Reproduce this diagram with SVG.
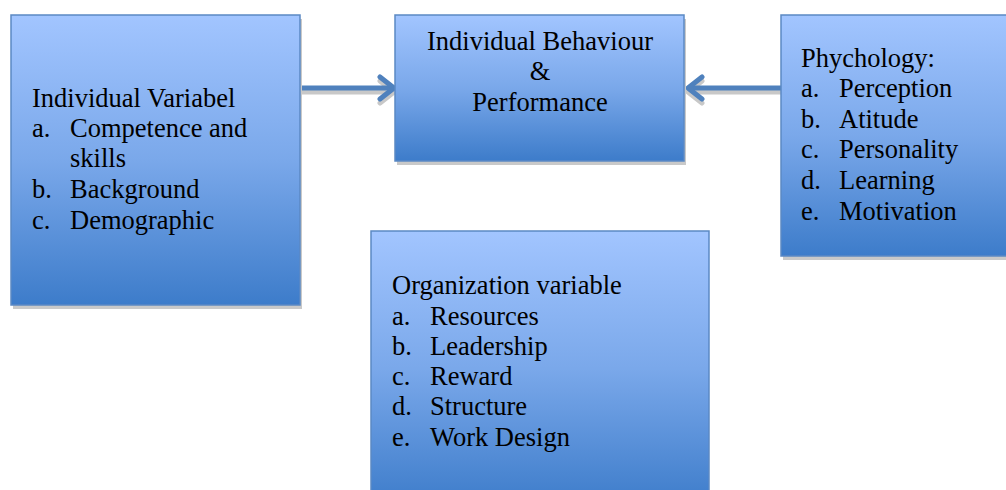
<svg xmlns="http://www.w3.org/2000/svg" width="1006" height="490" viewBox="0 0 1006 490">
<defs>
<linearGradient id="g" x1="0" y1="0" x2="0" y2="1">
<stop offset="0" stop-color="#a2c5ff"/>
<stop offset="0.5" stop-color="#7aa8ea"/>
<stop offset="1" stop-color="#3d7cca"/>
</linearGradient>
<marker id="ah" viewBox="0 0 20 28" refX="17" refY="14" markerWidth="20" markerHeight="28" markerUnits="userSpaceOnUse" orient="auto">
<path d="M3 3 L17 14 L3 25" fill="none" stroke="#4f81bd" stroke-width="5" stroke-linecap="round" stroke-linejoin="round"/>
</marker>
<marker id="ahs" viewBox="0 0 20 28" refX="17" refY="14" markerWidth="20" markerHeight="28" markerUnits="userSpaceOnUse" orient="auto">
<path d="M3 3 L17 14 L3 25" fill="none" stroke="#c8c8c8" stroke-width="5" stroke-linecap="round" stroke-linejoin="round"/>
</marker>
</defs>
<style>
.box{fill:url(#g);stroke:#5b89c4;stroke-width:1.5}
.sh{fill:#c9c9c9}
text{font-family:"Liberation Serif","Times New Roman",serif;font-size:26.5px;fill:#000}
.c{text-anchor:middle}
.ln{stroke:#4f81bd;stroke-width:5;fill:none}
.lns{stroke:#c8c8c8;stroke-width:5;fill:none}
</style>
<g id="connectors">
<line class="lns" x1="301" y1="92" x2="394" y2="92" marker-end="url(#ahs)"/>
<line class="lns" x1="781" y1="92" x2="688" y2="92" marker-end="url(#ahs)"/>
<line class="ln" x1="301" y1="88" x2="394" y2="88" marker-end="url(#ah)"/>
<line class="ln" x1="781" y1="88" x2="688" y2="88" marker-end="url(#ah)"/>
</g>
<g id="individual-variabel">
<rect class="sh" x="13" y="19" width="289" height="290"/>
<rect class="box" x="11" y="15" width="289" height="290"/>
<text x="32" y="107">Individual Variabel</text>
<text x="32" y="137">a.</text><text x="70" y="137">Competence and</text>
<text x="70" y="167">skills</text>
<text x="32" y="198">b.</text><text x="70" y="198">Background</text>
<text x="32" y="229">c.</text><text x="70" y="229">Demographic</text>
</g>
<g id="individual-behaviour">
<rect class="sh" x="397" y="19" width="289" height="146"/>
<rect class="box" x="395" y="15" width="289" height="146"/>
<text class="c" x="540" y="50">Individual Behaviour</text>
<text class="c" x="540" y="80">&amp;</text>
<text class="c" x="540" y="111">Performance</text>
</g>
<g id="phychology">
<rect class="sh" x="783" y="19" width="230" height="241"/>
<rect class="box" x="781" y="15" width="230" height="241"/>
<text x="801" y="67">Phychology:</text>
<text x="801" y="97">a.</text><text x="839" y="97">Perception</text>
<text x="801" y="128">b.</text><text x="839" y="128">Atitude</text>
<text x="801" y="158">c.</text><text x="839" y="158">Personality</text>
<text x="801" y="189">d.</text><text x="839" y="189">Learning</text>
<text x="801" y="220">e.</text><text x="839" y="220">Motivation</text>
</g>
<g id="organization-variable">
<rect class="box" x="371" y="231" width="338" height="275"/>
<text x="392" y="294">Organization variable</text>
<text x="392" y="325">a.</text><text x="430" y="325">Resources</text>
<text x="392" y="355">b.</text><text x="430" y="355">Leadership</text>
<text x="392" y="385">c.</text><text x="430" y="385">Reward</text>
<text x="392" y="415">d.</text><text x="430" y="415">Structure</text>
<text x="392" y="446">e.</text><text x="430" y="446">Work Design</text>
</g>
</svg>
